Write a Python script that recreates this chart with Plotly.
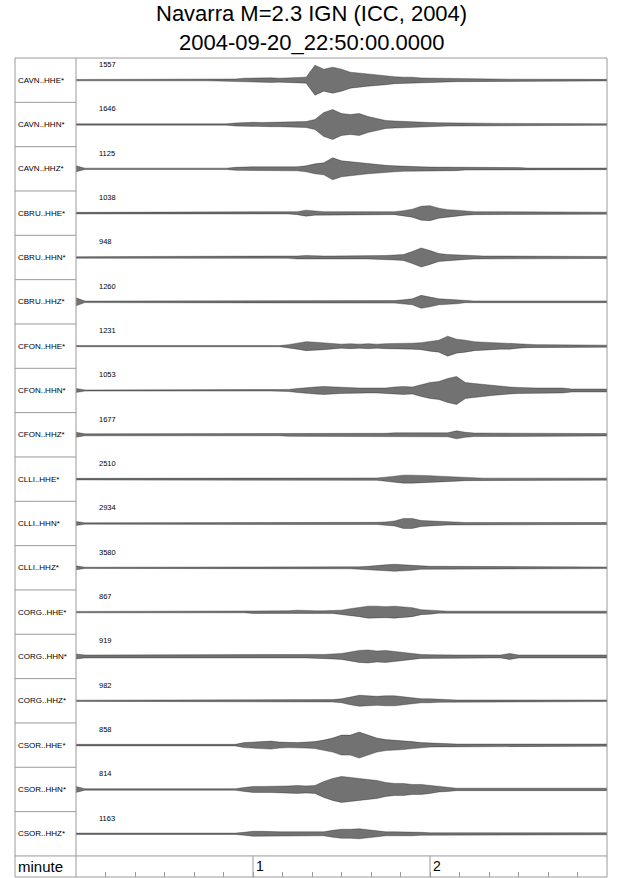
import plotly.graph_objects as go

# ---------------- data ----------------
title_line1 = "Navarra M=2.3 IGN (ICC, 2004)"
title_line2 = "2004-09-20_22:50:00.0000"

stations = ["CAVN..HHE*", "CAVN..HHN*", "CAVN..HHZ*",
            "CBRU..HHE*", "CBRU..HHN*", "CBRU..HHZ*",
            "CFON..HHE*", "CFON..HHN*", "CFON..HHZ*",
            "CLLI..HHE*", "CLLI..HHN*", "CLLI..HHZ*",
            "CORG..HHE*", "CORG..HHN*", "CORG..HHZ*",
            "CSOR..HHE*", "CSOR..HHN*", "CSOR..HHZ*"]

max_counts = ["1557", "1646", "1125", "1038", "948", "1260",
              "1231", "1053", "1677", "2510", "2934", "3580",
              "867", "919", "982", "858", "814", "1163"]

# sample times (seconds after 22:50:00), every 3 s
t_sec = list(range(0, 181, 3))

# trace envelopes (half peak-to-peak amplitude, as drawn) read at t_sec
CAVN_HHE = [0.7,0.7,0.7,0.7,0.7,0.7,0.7,0.7,0.7,0.7,
            0.7,0.7,0.7,0.7,0.7,0.7,0.7,0.7,1.2,2.0,
            2.2,2.0,2.3,2.0,2.2,2.5,3.0,15,11,13,
            11,8,7,6,5,4.5,3.5,3,3,2.2,
            2,2,1.8,1.5,1.3,1.2,1.2,1.1,1,1,
            1,0.9,0.8,0.8,0.8,0.8,0.8,0.8,0.8,0.8,
            0.8]
CAVN_HHN = [0.7,0.7,0.7,0.7,0.7,0.7,0.7,0.7,0.7,0.7,
            0.7,0.7,0.7,0.7,0.7,0.7,0.7,0.7,1.5,2.2,
            2.2,2.0,2.2,2.2,2.3,2.5,3,5,12,15,
            11,10,11,8,6,4,3.5,3,3,2.5,
            2,1.8,1.6,1.5,1.3,1.1,1.1,1.1,1.1,1.1,
            1.1,0.8,0.8,0.8,0.8,0.8,0.8,0.8,0.8,0.8,
            0.8]
CAVN_HHZ = [3,0.7,0.7,0.7,0.7,0.7,0.7,0.7,0.7,0.7,
            0.7,0.7,0.7,0.7,0.7,0.7,0.7,0.7,1.5,2,
            2,2,2,2,2,2,3,5,6,11,
            8,7,6,5,4,3.5,3,2.5,2.5,2,
            1.8,1.8,1.8,1.8,1.2,1.2,1.2,1.2,1.2,1.2,
            1.2,0.8,0.8,0.8,0.8,0.8,0.8,0.8,0.8,0.8,
            0.8]
CBRU_HHE = [0.8,0.8,0.8,0.8,0.8,0.8,0.8,0.8,0.8,0.8,
            0.8,0.8,0.8,0.8,0.8,0.8,0.8,0.8,0.8,0.8,
            0.8,0.8,0.8,0.8,0.8,1.5,3,2,1.5,1.5,
            1.5,1.5,1.5,1.5,1.5,1.5,1.5,2.5,4,7,
            7.5,5,3.5,3,2,1.5,1.5,1.5,1.5,1.5,
            1,1,1,1,1,1,1,1,1,1,
            1]
CBRU_HHN = [0.8,0.8,0.8,0.8,0.8,0.8,0.8,0.8,0.8,0.8,
            0.8,0.8,0.8,0.8,0.8,0.8,0.8,0.8,0.8,0.8,
            0.8,0.8,0.8,0.8,0.8,1.5,2,1.5,1.5,1.5,
            1.5,1.5,1.5,1.5,1.5,2,2.5,3,6,9.5,
            7,4,3,2.5,2,1.5,1.5,1.5,1.5,1.5,
            1.5,1.5,1,1,1,1,1,1,1,1,
            1]
CBRU_HHZ = [4,0.8,0.8,0.8,0.8,0.8,0.8,0.8,0.8,0.8,
            0.8,0.8,0.8,0.8,0.8,0.8,0.8,0.8,0.8,0.8,
            0.8,0.8,0.8,0.8,0.8,1.3,1.3,1.3,1.3,1.3,
            1.3,1.3,1.3,1.3,1.3,1.3,1.3,2,3,6.5,
            5,3,2.5,2,0.9,0.9,0.9,0.9,0.9,0.9,
            0.9,0.9,0.9,0.9,0.9,0.9,0.9,0.9,0.9,0.9,
            0.9]
CFON_HHE = [0.6,0.6,0.6,0.6,0.6,0.6,0.6,0.6,0.6,0.6,
            0.6,0.6,0.6,0.6,0.6,0.6,0.6,0.6,0.6,0.6,
            0.6,0.6,0.6,0.6,1.5,3,4.5,4,3.5,3,
            2,2.5,2,2.5,2,2.5,2.5,3,3,3.5,
            5,6,10,7,6,4.5,4,3.5,3,3,
            2,1.5,1.5,1.5,1.5,1.5,1.5,1.5,1,1,
            1]
CFON_HHN = [2,0.6,0.6,0.6,0.6,0.6,0.6,0.6,0.6,0.6,
            0.6,0.6,0.6,0.6,0.6,0.6,0.6,0.6,0.6,0.6,
            0.6,0.6,0.6,0.6,1,2,3,3.5,4,3.5,
            3,3,2.5,2.5,2.5,2.5,3.5,4,3.5,6,
            8,9,12,14,8,7,6,5,4,3.5,
            3,2.5,2.5,2.5,2.5,2.5,1.5,1.5,1.5,1.5,
            1.5]
CFON_HHZ = [2.5,1,1,1,1,1,1,1,1,1,
            1,1,1,1,1,1,1,1,1,1,
            1,1,1,1,1.5,1.5,1.5,1.5,1.5,1.5,
            1.5,1.5,1.5,1.5,1.5,1.5,2,2,2,2,
            2,2,2,4,2.5,1.8,1.8,1.8,1.8,1.8,
            1.8,1.2,1.2,1.2,1.2,1.2,1.2,1.2,1.2,1.2,
            1.2]
CLLI_HHE = [0.8,0.8,0.8,0.8,0.8,0.8,0.8,0.8,0.8,0.8,
            0.8,0.8,0.8,0.8,0.8,0.8,0.8,0.8,0.8,0.8,
            0.8,0.8,0.8,1.2,1.2,1.2,1.2,1.2,1.2,1.2,
            1.2,1.2,1.2,1.2,1.2,2,3,4,4,4,
            3.5,3,2.5,2,1.5,1,1,1,1,1,
            1,1,1,1,1,1,1,1,1,1,
            1]
CLLI_HHN = [2,0.7,0.7,0.7,0.7,0.7,0.7,0.7,0.7,0.7,
            0.7,0.7,0.7,0.7,0.7,0.7,0.7,0.7,0.7,0.7,
            0.7,0.7,0.7,1.1,1.1,1.1,1.1,1.1,1.1,1.1,
            1.1,1.1,1.1,1.1,1.1,1.5,2.5,5,5,3,
            2.5,2,1.5,1,1,1,1,1,1,1,
            1,1,1,1,1,1,1,1,1,1,
            1]
CLLI_HHZ = [2,0.6,0.6,0.6,0.6,0.6,0.6,0.6,0.6,0.6,
            0.6,0.6,0.6,0.6,0.6,0.6,0.6,0.6,0.6,0.6,
            0.6,0.6,0.6,0.6,1,1,1,1,1,1,
            1,1,1,1.5,2.5,3,3.5,3,2.5,1.5,
            1.5,1.5,1.5,0.8,0.8,0.8,0.8,0.8,0.8,0.8,
            0.8,0.8,0.8,0.8,0.8,0.8,0.8,0.8,0.8,0.8,
            0.8]
CORG_HHE = [0.7,0.7,0.7,0.7,0.7,0.7,0.7,0.7,0.7,0.7,
            0.7,0.7,0.7,0.7,0.7,0.7,0.7,0.7,0.7,0.7,
            1.3,1.3,1.3,1.3,1.3,2,1.3,1.3,1.3,1.3,
            2,3.5,4.5,6,6,5.5,6,5,4.5,2.5,
            2,1,1,1,1,1,1,1,1,1,
            1,1,1,1,1,1,1,1,1,1,
            1]
CORG_HHN = [2.5,1.5,1.5,1.5,1.5,1.5,1.5,1.5,1.5,1.5,
            1.5,1.5,1.5,1.5,1.5,1.5,1.5,1.5,1.5,1.5,
            1.5,1.5,1.5,1.5,1.5,1.5,1.5,2,2,2.5,
            3,4.5,6,6.5,5.5,6,5,4,3,2,
            1.8,1.5,1.5,1.5,1.5,1.5,1.5,1.5,1.5,3,
            1.5,1.5,1.5,1.5,1.5,1.5,1.5,1.5,1.5,1.5,
            1.5]
CORG_HHZ = [0.6,0.6,0.6,0.6,0.6,0.6,0.6,0.6,0.6,0.6,
            0.6,0.6,0.6,0.6,0.6,0.6,0.6,0.6,0.6,0.6,
            1.2,1.2,1.2,1.2,1.2,1.2,1.2,1.2,1.2,1.2,
            2,4,5.5,5,4.5,5,5,4,3,2,
            2,1.5,0.8,0.8,0.8,0.8,0.8,0.8,0.8,0.8,
            0.8,0.8,0.8,0.8,0.8,0.8,0.8,0.8,0.8,0.8,
            0.8]
CSOR_HHE = [0.8,0.8,0.8,0.8,0.8,0.8,0.8,0.8,0.8,0.8,
            0.8,0.8,0.8,0.8,0.8,0.8,0.8,0.8,0.8,2.5,
            3,3.5,4,3,2.5,2.5,3,3.5,5,7,
            10,10,13,10,7,5.5,5,4.5,3.5,2.5,
            2,1.8,1.5,1.1,1.1,1.1,1.1,1.1,1.1,1.1,
            1.1,1.1,1.1,1.1,1.1,1.1,1.1,1.1,1.1,1.1,
            1.1]
CSOR_HHN = [3,0.8,0.8,0.8,0.8,0.8,0.8,0.8,0.8,0.8,
            0.8,0.8,0.8,0.8,0.8,0.8,0.8,0.8,0.8,2,
            3,3,3,3,3.5,4,3.5,4,8,11,
            13,12,11,10,9,7,6,6,5,5,
            4,2.5,2,1.2,1.2,1.2,1.2,1.2,1.2,1.2,
            1.2,1.2,1.2,1.2,1.2,1.2,1.2,1.2,1.2,1.2,
            1.2]
CSOR_HHZ = [0.7,0.7,0.7,0.7,0.7,0.7,0.7,0.7,0.7,0.7,
            0.7,0.7,0.7,0.7,0.7,0.7,0.7,0.7,0.7,1.5,
            2.5,2.5,2,2,2,2,2,2,2,3.5,
            4.5,4.5,5,4,3,2,2,2,2,1.5,
            1,1,1,1,1.5,1,1,1,1,1,
            1,1,1,1,1,1,1,1,1,1,
            1]

envelopes = [CAVN_HHE, CAVN_HHN, CAVN_HHZ,
             CBRU_HHE, CBRU_HHN, CBRU_HHZ,
             CFON_HHE, CFON_HHN, CFON_HHZ,
             CLLI_HHE, CLLI_HHN, CLLI_HHZ,
             CORG_HHE, CORG_HHN, CORG_HHZ,
             CSOR_HHE, CSOR_HHN, CSOR_HHZ]

minute_ticks = [60, 120]
minute_labels = ["1", "2"]

# ---------------- layout constants ----------------
W, H = 640, 878
ML, MR, MT, MB = 76, 33, 58, 1
N = len(stations)
ROW_PX = 44.33
Y_TOP = float(N)
Y_BOT = N - (H - MT - MB) / ROW_PX       # axis row lies below y=0
AMP = 1.0 / ROW_PX                        # envelope drawn in pixel-like units
FONT = "Liberation Sans, Arial, Helvetica, sans-serif"
FRAME = "#9a9a9a"
LEFT_PX = 15
plot_w = W - ML - MR


def xpaper(px):
    return (px - ML) / plot_w


def ypaper(v):
    return (v - Y_BOT) / (Y_TOP - Y_BOT)


fig = go.Figure()

for i, (name, env) in enumerate(zip(stations, envelopes)):
    base = N - i - 0.5
    upper = [base + a * AMP for a in env]
    lower = [base - a * AMP for a in env]
    fig.add_trace(go.Scatter(
        x=t_sec + t_sec[::-1],
        y=upper + lower[::-1],
        mode="lines", fill="toself",
        fillcolor="rgba(20,20,20,0.6)",
        line=dict(color="rgba(0,0,0,0.75)", width=0.4),
        hoverinfo="skip", showlegend=False, name=name))

shapes = []
shapes.append(dict(type="rect", xref="paper", yref="paper",
                   x0=xpaper(LEFT_PX), x1=1, y0=0, y1=1,
                   line=dict(color=FRAME, width=1)))
shapes.append(dict(type="line", xref="paper", yref="paper",
                   x0=0, x1=0, y0=0, y1=1, line=dict(color=FRAME, width=1)))
for k in range(1, N):
    shapes.append(dict(type="line", xref="paper", yref="paper",
                       x0=xpaper(LEFT_PX), x1=0, y0=ypaper(k), y1=ypaper(k),
                       line=dict(color=FRAME, width=1)))
shapes.append(dict(type="line", xref="paper", yref="paper",
                   x0=xpaper(LEFT_PX), x1=1, y0=ypaper(0), y1=ypaper(0),
                   line=dict(color=FRAME, width=1)))
for tv in minute_ticks:
    shapes.append(dict(type="line", xref="x", yref="y",
                       x0=tv, x1=tv, y0=Y_BOT, y1=0,
                       line=dict(color=FRAME, width=1)))

annotations = []
annotations.append(dict(text=title_line1, xref="paper", yref="paper",
                        x=xpaper(311), y=(H - MB - 14) / (H - MT - MB),
                        xanchor="center", yanchor="middle", showarrow=False,
                        font=dict(family=FONT, size=22, color="black")))
annotations.append(dict(text=title_line2, xref="paper", yref="paper",
                        x=xpaper(311), y=(H - MB - 42) / (H - MT - MB),
                        xanchor="center", yanchor="middle", showarrow=False,
                        font=dict(family=FONT, size=22, color="black")))
for i, (name, cnt) in enumerate(zip(stations, max_counts)):
    annotations.append(dict(text=name, xref="paper", yref="y",
                            x=xpaper(16), y=N - i - 0.5,
                            xanchor="left", yanchor="middle", showarrow=False,
                            font=dict(family=FONT, size=8, color="black")))
    annotations.append(dict(text=cnt, xref="x", yref="y",
                            x=7.1, y=N - i - 0.15,
                            xanchor="left", yanchor="middle", showarrow=False,
                            font=dict(family=FONT, size=7.5, color="black")))
annotations.append(dict(text="minute", xref="paper", yref="y",
                        x=xpaper(16), y=Y_BOT / 2,
                        xanchor="left", yanchor="middle", showarrow=False,
                        font=dict(family=FONT, size=15, color="black")))
for tv, lab in zip(minute_ticks, minute_labels):
    annotations.append(dict(text=lab, xref="x", yref="y",
                            x=tv, y=Y_BOT / 2, xshift=1,
                            xanchor="left", yanchor="middle", showarrow=False,
                            font=dict(family=FONT, size=14, color="black")))

fig.update_layout(
    width=W, height=H,
    margin=dict(l=ML, r=MR, t=MT, b=MB, pad=0),
    paper_bgcolor="white", plot_bgcolor="white",
    showlegend=False,
    shapes=shapes, annotations=annotations,
    xaxis=dict(range=[0, 180], showgrid=False, zeroline=False,
               showline=False, showticklabels=False,
               tickmode="linear", tick0=0, dtick=10,
               ticks="inside", ticklen=5, tickcolor=FRAME, tickwidth=1,
               fixedrange=True),
    yaxis=dict(range=[Y_BOT, Y_TOP], showgrid=False, zeroline=False,
               showline=False, showticklabels=False, ticks="",
               fixedrange=True),
)

fig.write_html(
    "out.html",
    config={"displayModeBar": False},
    post_script="document.body.style.margin='0';document.body.style.overflow='hidden';",
)
